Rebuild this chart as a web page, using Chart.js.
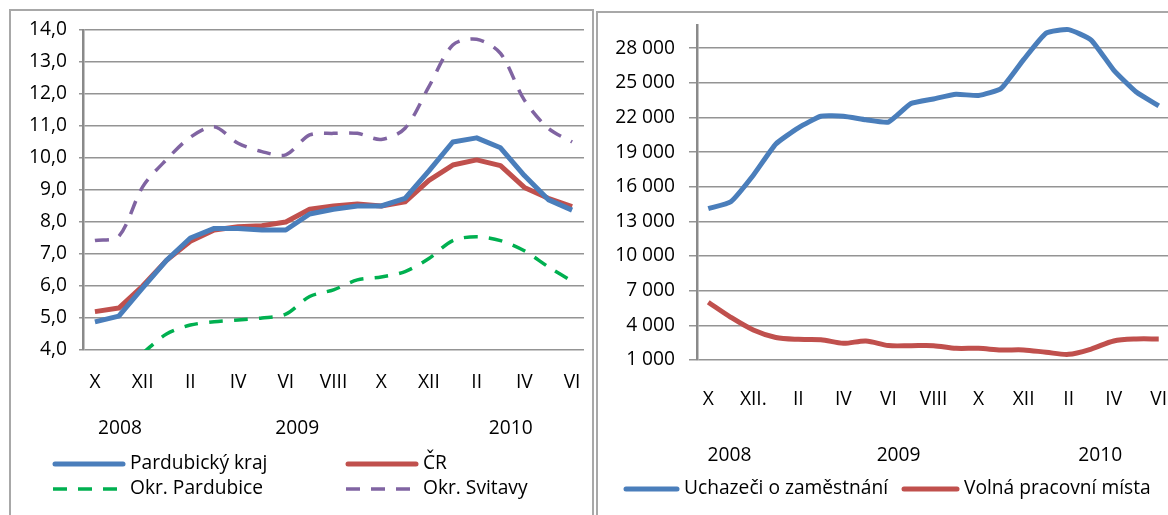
<!DOCTYPE html>
<html>
<head>
<meta charset="utf-8">
<script src="https://cdn.jsdelivr.net/npm/chart.js@4"></script>
<style>
  html, body { margin: 0; padding: 0; background: #fff; overflow: hidden; }
  body { width: 1168px; height: 515px; position: relative; }
  .box { position: absolute; border: 2px solid #a8a8a8; }
  #boxLeft { left: 9px; top: 9px; width: 581px; height: 520px; }
  #boxRight { left: 596px; top: 11px; width: 600px; height: 520px; }
  canvas { display: block; }
</style>
</head>
<body>
<div class="box" id="boxLeft"><canvas id="leftChart" width="581" height="504"></canvas></div>
<div class="box" id="boxRight"><canvas id="rightChart" width="576" height="502"></canvas></div>
<script>
// months X/2008 .. VI/2010
const monthsLeft = ["X", "XI", "XII", "I", "II", "III", "IV", "V", "VI", "VII", "VIII", "IX",
                    "X", "XI", "XII", "I", "II", "III", "IV", "V", "VI"];
const monthsRight = ["X", "XI", "XII.", "I", "II", "III", "IV", "V", "VI", "VII", "VIII", "IX",
                     "X", "XI", "XII", "I", "II", "III", "IV", "V", "VI"];
const years = ["2008", "2009", "2010"];

// podíl nezaměstnaných (%)
const pardubickyKraj = [4.88, 5.06, 5.94, 6.8, 7.5, 7.8, 7.8, 7.75, 7.75, 8.25, 8.4,
                        8.5, 8.5, 8.74, 9.6, 10.5, 10.63, 10.32, 9.45, 8.7, 8.37];
const cr = [5.2, 5.31, 6.0, 6.8, 7.4, 7.75, 7.85, 7.88, 8.0, 8.4, 8.5,
            8.56, 8.5, 8.63, 9.3, 9.78, 9.94, 9.76, 9.08, 8.74, 8.48];
const okrPardubice = [null, null, 3.9, 4.5, 4.78, 4.88, 4.94, 5.0, 5.12, 5.67, 5.88,
                      6.19, 6.28, 6.45, 6.86, 7.42, 7.54, 7.42, 7.1, 6.6, 6.15];
const okrSvitavy = [7.42, 7.55, 9.1, 9.95, 10.65, 10.98, 10.46, 10.2, 10.1, 10.72, 10.77,
                    10.77, 10.58, 10.93, 12.23, 13.53, 13.71, 13.27, 11.81, 10.93, 10.5];
const leftTicks = [4, 5, 6, 7, 8, 9, 10, 11, 12, 13, 14];

// uchazeči a volná místa (osoby)
const uchazeci = [14100, 14700, 17000, 19700, 21100, 22100, 22100, 21800, 21600, 23200, 23600,
                  24000, 23900, 24500, 27000, 29300, 29600, 28700, 26100, 24200, 23000];
const volnaMista = [6000, 4700, 3600, 2950, 2790, 2760, 2440, 2650, 2250, 2240, 2240,
                    2010, 2010, 1870, 1870, 1670, 1490, 1950, 2650, 2820, 2820];
const rightTicks = [1000, 4000, 7000, 10000, 13000, 16000, 19000, 22000, 25000, 28000];

const FONT = "'Open Sans', sans-serif";
const FSIZE = 19.2;
const gridColor = "#949494";

// year captions + legend drawn below the axis
const extraText = {
    id: "extraText",
    afterDraw(chart, args, opts) {
        const ctx = chart.ctx;
        const xs = chart.scales.x;
        ctx.save();
        ctx.font = `${FSIZE}px ${FONT}`;
        ctx.fillStyle = "#000";
        ctx.textBaseline = "middle";
        ctx.textAlign = "center";
        years.forEach((t, k) => {
            ctx.fillText(t, xs.getPixelForValue(opts.yearAt[k]), opts.yearY);
        });
        ctx.textAlign = "left";
        opts.items.forEach(it => {
            const ds = chart.data.datasets[it.ds];
            ctx.save();
            ctx.strokeStyle = ds.borderColor;
            ctx.lineWidth = ds.borderWidth;
            ctx.lineCap = ds.borderDash ? "butt" : "round";
            ctx.setLineDash(ds.borderDash || []);
            ctx.beginPath();
            ctx.moveTo(it.x, it.y);
            ctx.lineTo(it.x + it.w, it.y);
            ctx.stroke();
            ctx.restore();
            ctx.fillText(ds.label, it.x + it.w + 7, it.y);
        });
        ctx.restore();
    }
};

function xAxis(pad, height) {
    return {
        offset: true,
        grid: { display: false, offset: true },
        border: { display: false },
        afterFit: s => {
            s.height = height;
            s.paddingLeft = 0;
            s.paddingRight = 0;
        },
        ticks: {
            autoSkip: false,
            maxRotation: 0,
            padding: pad,
            color: "#000",
            font: { family: FONT, size: FSIZE },
            callback: function (v, i) { return i % 2 === 0 ? this.getLabelForValue(v) : ""; }
        }
    };
}

function yFit(width) {
    return s => {
        s.width = width;
        s.paddingTop = 0;
        s.paddingBottom = 0;
    };
}

const leftChart = new Chart(document.getElementById("leftChart"), {
    type: "line",
    data: {
        labels: monthsLeft,
        datasets: [
            { label: "Pardubický kraj", data: pardubickyKraj, borderColor: "#4a7ebb", borderWidth: 5, tension: 0 },
            { label: "ČR", data: cr, borderColor: "#c0504d", borderWidth: 5, tension: 0 },
            { label: "Okr. Pardubice", data: okrPardubice, borderColor: "#00b050", borderWidth: 3.5, borderDash: [14, 11], tension: 0.3 },
            { label: "Okr. Svitavy", data: okrSvitavy, borderColor: "#8064a2", borderWidth: 3.5, borderDash: [14, 11], tension: 0.3 }
        ]
    },
    options: {
        responsive: false,
        animation: false,
        layout: { padding: { top: 19, right: 8, left: 0, bottom: 0 } },
        elements: { point: { radius: 0 }, line: { borderCapStyle: "butt", borderJoinStyle: "round" } },
        plugins: {
            legend: { display: false },
            tooltip: { enabled: false },
            extraText: {
                yearAt: [1.05, 8.48, 17.43],
                yearY: 418,
                items: [
                    { ds: 0, x: 44, y: 453, w: 68 },
                    { ds: 1, x: 337, y: 453, w: 68 },
                    { ds: 2, x: 42, y: 478, w: 70 },
                    { ds: 3, x: 335, y: 478, w: 70 }
                ]
            }
        },
        scales: {
            x: xAxis(13, 165),
            y: {
                min: 4,
                max: 14,
                afterFit: yFit(72),
                afterBuildTicks: s => { s.ticks = leftTicks.map(v => ({ value: v })); },
                grid: { color: gridColor, lineWidth: 1.5, tickLength: 4 },
                border: { color: "#8a8a8a", width: 2.5 },
                ticks: {
                    padding: 12,
                    color: "#000",
                    font: { family: FONT, size: FSIZE },
                    callback: v => v.toFixed(1).replace(".", ",")
                }
            }
        }
    },
    plugins: [extraText]
});

const rightChart = new Chart(document.getElementById("rightChart"), {
    type: "line",
    data: {
        labels: monthsRight,
        datasets: [
            { label: "Uchazeči o zaměstnání", data: uchazeci, borderColor: "#4a7ebb", borderWidth: 5, tension: 0.15 },
            { label: "Volná pracovní místa", data: volnaMista, borderColor: "#c0504d", borderWidth: 5, tension: 0.3 }
        ]
    },
    options: {
        responsive: false,
        animation: false,
        layout: { padding: { top: 12, right: 4, left: 0, bottom: 0 } },
        elements: { point: { radius: 0 }, line: { borderCapStyle: "butt", borderJoinStyle: "round" } },
        plugins: {
            legend: { display: false },
            tooltip: { enabled: false },
            extraText: {
                yearAt: [0.94, 8.45, 17.4],
                yearY: 443,
                items: [
                    { ds: 0, x: 28, y: 476, w: 51 },
                    { ds: 1, x: 306, y: 476, w: 53 }
                ]
            }
        },
        scales: {
            x: xAxis(20, 155),
            y: {
                min: 1000,
                max: 30000,
                afterFit: yFit(99),
                afterBuildTicks: s => { s.ticks = rightTicks.map(v => ({ value: v })); },
                grid: { color: gridColor, lineWidth: 1.5, tickLength: 8 },
                border: { color: "#8a8a8a", width: 2.5 },
                ticks: {
                    padding: 14,
                    color: "#000",
                    font: { family: FONT, size: FSIZE },
                    callback: v => String(v).replace(/\B(?=(\d{3})+(?!\d))/g, " ")
                }
            }
        }
    },
    plugins: [extraText]
});
</script>
</body>
</html>
